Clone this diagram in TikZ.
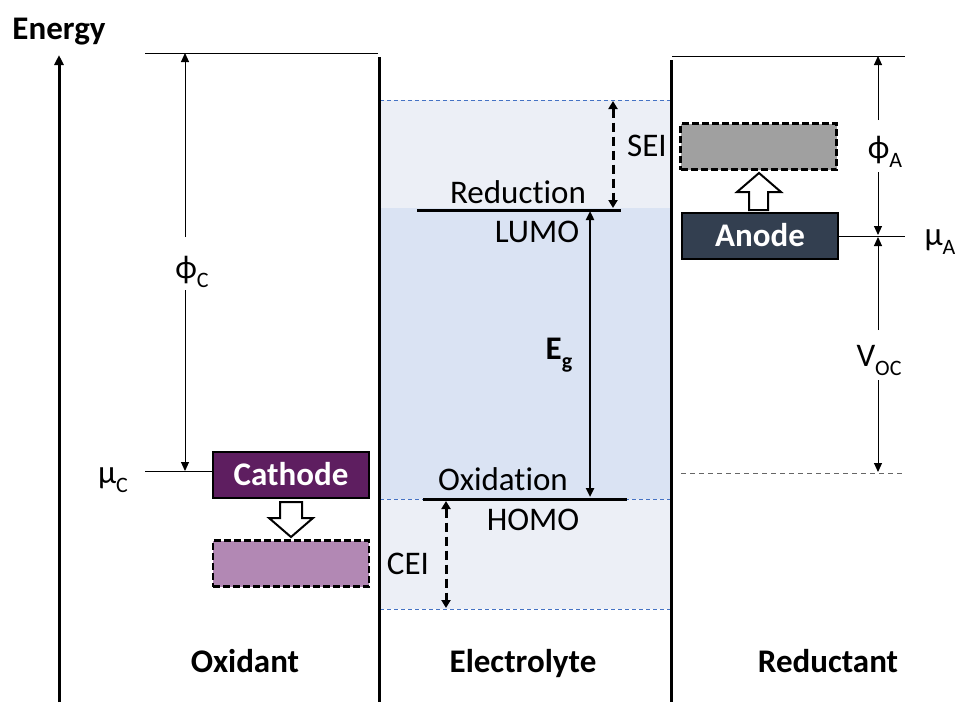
\documentclass[tikz,border=0pt]{standalone}
\usepackage{fontspec}
\setmainfont{Carlito}[Ligatures=NoCommon]
\usetikzlibrary{arrows.meta}
\definecolor{cathodec}{RGB}{94,30,96}
\definecolor{anodec}{RGB}{51,63,80}
\definecolor{lumoc}{RGB}{218,227,243}
\definecolor{seic}{RGB}{236,239,246}
\definecolor{bluel}{RGB}{68,114,196}
\definecolor{cathpat}{RGB}{178,136,180}
\definecolor{anodepat}{RGB}{160,160,160}
\newcommand\sub[1]{\raisebox{-0.3em}{\fontsize{22}{22}\selectfont #1}}
\begin{document}
\begin{tikzpicture}[x=1pt,y=-1pt,
  font=\fontsize{33}{38}\selectfont,
  wall/.style={line width=3pt,black},
  thinl/.style={line width=1pt,black},
  tip/.style={-{Triangle[width=8pt,length=9pt]}},
  bluedash/.style={line width=0.8pt,bluel,dash pattern=on 4pt off 3pt},
  dashbox/.style={draw=black,line width=2.5pt,dash pattern=on 7pt off 3pt,minimum width=156pt,minimum height=46pt,inner sep=0pt},
  solidbox/.style={draw=black,line width=2pt,minimum width=156pt,minimum height=46pt,inner sep=0pt,text=white,font=\fontsize{33}{38}\selectfont\bfseries},
  hollow/.style={draw=black,line width=2pt,fill=white,line join=miter},
  sdash/.style={line width=3pt,dash pattern=on 9pt off 5pt,{Triangle[width=9pt,length=8pt]}-{Triangle[width=9pt,length=8pt]}},
  lbl/.style={inner sep=0pt,anchor=base},
  blbl/.style={inner sep=0pt,anchor=base,font=\fontsize{33}{38}\selectfont\bfseries}
]
\useasboundingbox (0,0) rectangle (955,702);
% electrolyte fills
\fill[seic] (380,100) rectangle (670,208);
\fill[lumoc] (380,208) rectangle (670,499);
\fill[seic] (380,499) rectangle (670,609);
\coordinate (b1l) at (380,100); \coordinate (b1r) at (670,100);
\coordinate (b2l) at (380,499); \coordinate (b2r) at (670,499);
\coordinate (b3l) at (380,609); \coordinate (b3r) at (670,609);
\draw[bluedash] (b1l) -- (b1r);
\draw[bluedash] (b2l) -- (b2r);
\draw[bluedash] (b3l) -- (b3r);
% walls and axis
\coordinate (axb) at (59,702); \coordinate (axt) at (59,55);
\draw[wall,-{Triangle[width=9pt,length=10pt]}] (axb) -- (axt);
\node[blbl] (energy) at (59,39) {Energy};
\coordinate (wlt) at (379,57); \coordinate (wlb) at (379,702);
\coordinate (wrt) at (671,60); \coordinate (wrb) at (671,702);
\draw[wall] (wlt) -- (wlb);
\draw[wall] (wrt) -- (wrb);
% top lines
\coordinate (tl1) at (145,53); \coordinate (tl2) at (378,53);
\coordinate (tr1) at (672,56); \coordinate (tr2) at (905,56);
\draw[thinl] (tl1) -- (tl2);
\draw[thinl] (tr1) -- (tr2);
% cathode side
\node[solidbox,fill=cathodec] (cath) at (291,474.5) {Cathode};
\node[dashbox,fill=cathpat] (cathx) at (291,563.5) {};
\draw[hollow] (280,502) -- (302,502) -- (302,518) -- (313,518) -- (291,537) -- (269,518) -- (280,518) -- cycle;
\coordinate (muCl) at (145,471);
\draw[thinl] (muCl) -- (cath.west |- muCl);
\node[lbl] (muC) at (113,483) {μ\sub{C}};
\coordinate (pCt) at (185,53); \coordinate (pCa) at (185,237);
\coordinate (pCb) at (185,290); \coordinate (pCbot) at (185,471);
\draw[thinl,tip] (pCa) -- (pCt);
\draw[thinl,tip] (pCb) -- (pCbot);
\node[lbl] (phiC) at (192,278) {ϕ\sub{C}};
% electrolyte levels
\coordinate (rl) at (417,210); \coordinate (rr) at (621,210);
\coordinate (ol) at (423,499); \coordinate (or) at (627,499);
\draw[wall] (rl) -- (rr);
\draw[wall] (ol) -- (or);
\node[lbl] (red) at (518,203) {Reduction};
\node[lbl] (lumo) at (537,242) {LUMO};
\node[lbl] (oxi) at (503,490) {Oxidation};
\node[lbl] (homo) at (533,530) {HOMO};
\coordinate (egt) at (590,211); \coordinate (egb) at (590,497);
\draw[line width=2.5pt,{Triangle[width=8pt,length=9pt]}-{Triangle[width=8pt,length=9pt]}] (egt) -- (egb);
\node[blbl] (eg) at (559,359) {E\sub{g}};
\coordinate (seit) at (613,101); \coordinate (seib) at (613,208);
\draw[sdash] (seit) -- (seib);
\node[lbl] (sei) at (647,156) {SEI};
\coordinate (ceit) at (446,501); \coordinate (ceib) at (446,608);
\draw[sdash] (ceit) -- (ceib);
\node[lbl] (cei) at (408,574) {CEI};
% anode side
\node[solidbox,fill=anodec] (anode) at (760,235.5) {Anode};
\node[dashbox,fill=anodepat] (anodex) at (758.5,146.5) {};
\draw[hollow] (749,210) -- (768,210) -- (768,192) -- (781,192) -- (759,173) -- (737,192) -- (749,192) -- cycle;
\coordinate (muAr) at (905,236);
\draw[thinl] (anode.east |- muAr) -- (muAr);
\node[lbl] (muA) at (940,245) {μ\sub{A}};
\coordinate (pAt) at (878,56); \coordinate (pAa) at (878,120);
\coordinate (pAb) at (878,172); \coordinate (pAm) at (878,235);
\draw[thinl,tip] (pAa) -- (pAt);
\draw[thinl,tip] (pAb) -- (pAm);
\node[lbl] (phiA) at (885,158) {ϕ\sub{A}};
\coordinate (vt) at (878,237); \coordinate (va) at (878,330);
\coordinate (vb) at (878,380); \coordinate (vbot) at (878,472);
\draw[thinl,tip] (va) -- (vt);
\draw[thinl,tip] (vb) -- (vbot);
\node[lbl] (voc) at (879,366) {V\sub{OC}};
\coordinate (dl) at (681,473); \coordinate (dr) at (905,473);
\draw[line width=1pt,gray!80!black,dash pattern=on 5pt off 4pt] (dl) -- (dr);
% bottom labels
\node[blbl] (oxidant) at (245,672) {Oxidant};
\node[blbl] (electrolyte) at (523,672) {Electrolyte};
\node[blbl] (reductant) at (828,672) {Reductant};
\end{tikzpicture}
\end{document}
